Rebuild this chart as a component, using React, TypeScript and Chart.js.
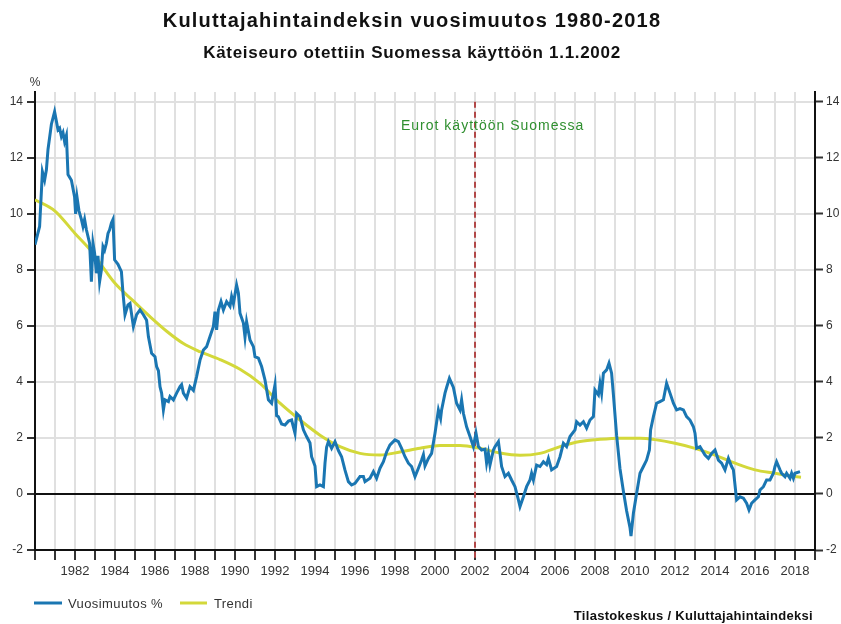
import React, { useEffect, useRef } from 'react';
import { Chart, registerables } from 'chart.js';

Chart.register(...registerables);

const FONT = '"Liberation Sans", Arial, Helvetica, sans-serif';

const otsikko = 'Kuluttajahintaindeksin vuosimuutos 1980-2018';
const alaotsikko = 'Käteiseuro otettiin Suomessa käyttöön 1.1.2002';
const lahde = 'Tilastokeskus / Kuluttajahintaindeksi';
const merkinta = 'Eurot käyttöön Suomessa';
const yksikko = '%';
const sarjaNimet = ['Vuosimuutos %', 'Trendi'];
const euroVuosi = 2002;
const xMin = 1980;
const xMax = 2019;
const yTicks = [-2, 0, 2, 4, 6, 8, 10, 12, 14];

const muutosAika = [
  1980.0, 1980.23, 1980.37, 1980.48, 1980.57, 1980.65, 1980.82, 1980.98,
  1981.15, 1981.23, 1981.32, 1981.4, 1981.48, 1981.57, 1981.65, 1981.82, 1981.98,
  1982.03, 1982.1, 1982.2, 1982.32, 1982.4, 1982.48, 1982.57, 1982.73, 1982.82, 1982.9, 1982.98,
  1983.07, 1983.15, 1983.23, 1983.32, 1983.4, 1983.48, 1983.57, 1983.65, 1983.73, 1983.82, 1983.9, 1983.98,
  1984.15, 1984.32, 1984.4, 1984.5, 1984.65, 1984.75, 1984.92,
  1985.08, 1985.25, 1985.42, 1985.58, 1985.67, 1985.83,
  1986.0, 1986.08, 1986.17, 1986.25, 1986.33, 1986.42, 1986.5, 1986.67, 1986.75, 1986.92,
  1987.08, 1987.25, 1987.33, 1987.42, 1987.58, 1987.75, 1987.92,
  1988.08, 1988.25, 1988.42, 1988.58, 1988.75, 1988.92,
  1989.0, 1989.08, 1989.17, 1989.3, 1989.42, 1989.58, 1989.75, 1989.83, 1989.92,
  1990.08, 1990.17, 1990.25, 1990.42, 1990.5, 1990.58, 1990.75, 1990.92,
  1991.0, 1991.17, 1991.33, 1991.5, 1991.67, 1991.83,
  1992.0, 1992.08, 1992.17, 1992.33, 1992.5, 1992.67, 1992.83,
  1993.0, 1993.08, 1993.25, 1993.42, 1993.58, 1993.75, 1993.83,
  1994.0, 1994.08, 1994.25, 1994.42, 1994.5, 1994.58, 1994.67, 1994.83,
  1995.0, 1995.17, 1995.33, 1995.5, 1995.67, 1995.83,
  1996.0, 1996.25, 1996.42, 1996.5, 1996.75, 1996.92,
  1997.08, 1997.25, 1997.42, 1997.58, 1997.75,
  1998.0, 1998.17, 1998.33, 1998.5, 1998.67, 1998.83,
  1999.0, 1999.17, 1999.33, 1999.42, 1999.5, 1999.67, 1999.83,
  2000.0, 2000.17, 2000.28, 2000.33, 2000.5, 2000.58, 2000.72, 2000.92,
  2001.08, 2001.25, 2001.33, 2001.42, 2001.58, 2001.75, 2001.92,
  2002.05, 2002.17, 2002.33, 2002.5, 2002.58, 2002.67, 2002.75, 2002.92,
  2003.0, 2003.17, 2003.25, 2003.33, 2003.5, 2003.67, 2003.83,
  2004.0, 2004.17, 2004.25, 2004.42, 2004.58, 2004.75, 2004.83, 2004.92,
  2005.08, 2005.25, 2005.42, 2005.58, 2005.67, 2005.83,
  2006.08, 2006.25, 2006.42, 2006.58, 2006.75,
  2007.0, 2007.08, 2007.25, 2007.42, 2007.58, 2007.75, 2007.92,
  2008.0, 2008.17, 2008.25, 2008.33, 2008.42, 2008.58, 2008.7, 2008.83, 2008.92,
  2009.08, 2009.25, 2009.42, 2009.58, 2009.75, 2009.8, 2009.92,
  2010.08, 2010.25, 2010.42, 2010.58, 2010.72, 2010.78, 2010.92,
  2011.08, 2011.25, 2011.42, 2011.58, 2011.75, 2011.92,
  2012.08, 2012.25, 2012.42, 2012.58, 2012.75, 2012.92,
  2013.0, 2013.08, 2013.25, 2013.5, 2013.67, 2013.83,
  2014.0, 2014.17, 2014.33, 2014.5, 2014.67, 2014.83, 2014.92,
  2015.08, 2015.25, 2015.42, 2015.58, 2015.7, 2015.83,
  2016.0, 2016.17, 2016.25, 2016.42, 2016.58, 2016.75, 2016.92,
  2017.0, 2017.08, 2017.25, 2017.33, 2017.5, 2017.58, 2017.75, 2017.83, 2017.92,
  2018.0, 2018.25,
];

const muutosArvo = [
  8.9, 9.55, 11.5, 11.2, 11.57, 12.3, 13.2, 13.65,
  13.0, 13.06, 12.76, 12.9, 12.58, 12.8, 11.4, 11.2, 10.6,
  10.0, 10.6, 10.1, 9.8, 9.55, 9.8, 9.43, 8.95, 7.58, 8.95, 8.6,
  7.88, 8.5, 7.58, 8.0, 8.83, 8.7, 8.95, 9.3, 9.43, 9.67, 9.8, 8.36,
  8.2, 7.94, 7.17, 6.4, 6.75, 6.8, 5.98,
  6.4, 6.57, 6.4, 6.2, 5.62, 5.02,
  4.9, 4.55, 4.4, 3.83, 3.6, 3.0, 3.36, 3.3, 3.48, 3.36,
  3.6, 3.83, 3.9, 3.6, 3.42, 3.83, 3.7,
  4.19, 4.78, 5.14, 5.26, 5.62, 5.98,
  6.51, 5.86, 6.57, 6.87, 6.57, 6.87, 6.7, 7.05, 6.8,
  7.46, 7.17, 6.45, 6.1, 5.6, 6.15, 5.5, 5.26,
  4.9, 4.85, 4.55, 4.07, 3.36, 3.24,
  3.9, 2.8, 2.76, 2.5, 2.46, 2.6, 2.64,
  2.17, 2.88, 2.76, 2.29, 2.05, 1.82, 1.33,
  1.0, 0.26, 0.32, 0.26, 1.1, 1.67, 1.87, 1.63,
  1.87, 1.55, 1.33, 0.85, 0.44, 0.32,
  0.38, 0.62, 0.62, 0.44, 0.56, 0.8,
  0.56, 0.92, 1.15, 1.5, 1.75,
  1.93, 1.87, 1.63, 1.33, 1.1, 0.98,
  0.62, 0.92, 1.21, 1.4, 1.0, 1.27, 1.45,
  2.17, 3.0, 2.7, 3.0, 3.6, 3.8, 4.13, 3.8,
  3.24, 3.0, 3.36, 2.88, 2.4, 2.05, 1.69,
  2.17, 1.69, 1.57, 1.6, 1.1, 1.45, 1.03, 1.57,
  1.69, 1.87, 1.45, 0.98, 0.62, 0.74, 0.5,
  0.26, -0.21, -0.45, -0.1, 0.26, 0.5, 0.74, 0.5,
  1.03, 0.98, 1.15, 1.05, 1.27, 0.86,
  0.98, 1.33, 1.81, 1.69, 2.05,
  2.29, 2.58, 2.46, 2.58, 2.35, 2.64, 2.76,
  3.71, 3.54, 3.95, 3.6, 4.31, 4.43, 4.67, 4.31, 3.55,
  2.1, 0.9, 0.1, -0.6, -1.2, -1.5, -0.69,
  0.02, 0.74, 0.98, 1.21, 1.57, 2.29, 2.76,
  3.24, 3.3, 3.36, 3.95, 3.6, 3.24,
  3.0, 3.05, 3.0, 2.76, 2.64, 2.4,
  2.17, 1.63, 1.69, 1.39, 1.27, 1.45,
  1.57, 1.21, 1.1, 0.86, 1.27, 0.98, 0.86,
  -0.21, -0.1, -0.15, -0.33, -0.57, -0.33,
  -0.21, -0.1, 0.14, 0.26, 0.5, 0.5, 0.74,
  0.98, 1.15, 0.86, 0.74, 0.62, 0.74, 0.56, 0.74, 0.56,
  0.74, 0.8,
];

const trendiAika = [
  1980.0, 1981.0, 1982.0, 1982.8, 1983.25, 1984.0, 1984.9, 1985.75, 1986.6, 1987.4,
  1988.25, 1989.25, 1990.25, 1991.25, 1992.25, 1993.25, 1994.25, 1995.25, 1996.25,
  1997.25, 1998.25, 1999.25, 2000.25, 2001.25, 2002.25, 2003.25, 2004.25, 2005.25,
  2006.25, 2007.25, 2008.25, 2009.25, 2010.25, 2011.0, 2012.0, 2013.0, 2014.0,
  2015.0, 2016.0, 2017.0, 2018.0, 2018.3,
];

const trendiArvo = [
  10.5, 10.1, 9.3, 8.68, 8.24, 7.52, 6.9, 6.33, 5.8, 5.38,
  5.08, 4.8, 4.45, 3.95, 3.24, 2.64, 2.1, 1.69, 1.45,
  1.39, 1.5, 1.63, 1.73, 1.73, 1.63, 1.46, 1.38, 1.45,
  1.69, 1.87, 1.95, 1.99, 1.99, 1.94, 1.81, 1.63, 1.39,
  1.1, 0.86, 0.74, 0.62, 0.6,
];

const SININEN = '#1a76b2';
const KELTAINEN = '#d3d83a';

const setSpacing = (ctx: any, v: string) => {
  try { ctx.letterSpacing = v; } catch (e) { /* ignore */ }
};

const decorPlugin = {
  id: 'decor',
  beforeDatasetsDraw(chart: any) {
    const { ctx, chartArea, scales } = chart;
    const x = Math.round(scales.x.getPixelForValue(euroVuosi));
    ctx.save();
    ctx.strokeStyle = '#b24848';
    ctx.lineWidth = 2;
    ctx.setLineDash([6, 4]);
    ctx.beginPath();
    ctx.moveTo(x, scales.y.getPixelForValue(14));
    ctx.lineTo(x, chartArea.bottom + 9);
    ctx.stroke();
    ctx.restore();
  },
  afterDraw(chart: any) {
    const { ctx, chartArea, scales } = chart;
    ctx.save();
    ctx.fillStyle = '#111';
    ctx.textAlign = 'center';
    ctx.textBaseline = 'middle';
    ctx.font = `bold 20px ${FONT}`;
    setSpacing(ctx, '1.2px');
    ctx.fillText(otsikko, 412, 21);
    ctx.font = `bold 17px ${FONT}`;
    setSpacing(ctx, '0.7px');
    ctx.fillText(alaotsikko, 412, 53);
    setSpacing(ctx, '0px');

    // unit label
    ctx.font = `12px ${FONT}`;
    ctx.fillStyle = '#333';
    ctx.fillText(yksikko, chartArea.left, 83);

    // annotation
    ctx.font = `14px ${FONT}`;
    ctx.fillStyle = '#2f8f2f';
    ctx.textAlign = 'left';
    setSpacing(ctx, '1px');
    ctx.fillText(merkinta, scales.x.getPixelForValue(euroVuosi) - 74, 126);
    setSpacing(ctx, '0px');

    // legend
    const ly = 603;
    ctx.lineWidth = 3;
    ctx.strokeStyle = SININEN;
    ctx.beginPath();
    ctx.moveTo(34, ly);
    ctx.lineTo(62, ly);
    ctx.stroke();
    ctx.strokeStyle = KELTAINEN;
    ctx.beginPath();
    ctx.moveTo(180, ly);
    ctx.lineTo(207, ly);
    ctx.stroke();
    ctx.font = `13px ${FONT}`;
    ctx.fillStyle = '#333';
    setSpacing(ctx, '0.4px');
    ctx.fillText(sarjaNimet[0], 68, ly + 1);
    ctx.fillText(sarjaNimet[1], 214, ly + 1);

    // source
    ctx.font = `bold 13px ${FONT}`;
    ctx.fillStyle = '#111';
    ctx.textAlign = 'right';
    setSpacing(ctx, '0.3px');
    ctx.fillText(lahde, 813, 616);
    setSpacing(ctx, '0px');
    ctx.restore();
  },
};

export default function App() {
  const ref = useRef<HTMLCanvasElement | null>(null);

  useEffect(() => {
    document.body.style.margin = '0';
    const canvas = ref.current;
    if (!canvas) return;

    const muutosData = muutosAika.map((t, i) => ({ x: t, y: muutosArvo[i] }));
    const trendiData = trendiAika.map((t, i) => ({ x: t, y: trendiArvo[i] }));

    const keepTicks = (scale: any) => {
      scale.ticks = yTicks.map((v) => ({ value: v }));
    };

    const chart = new Chart(canvas, {
      type: 'line',
      data: {
        datasets: [
          {
            label: sarjaNimet[0],
            data: muutosData,
            borderColor: SININEN,
            borderWidth: 3,
            pointRadius: 0,
            tension: 0,
            yAxisID: 'y',
          },
          {
            label: sarjaNimet[1],
            data: trendiData,
            borderColor: KELTAINEN,
            borderWidth: 3,
            pointRadius: 0,
            cubicInterpolationMode: 'monotone',
            yAxisID: 'y',
          },
        ],
      },
      options: {
        animation: false,
        responsive: false,
        maintainAspectRatio: false,
        layout: { padding: { top: 92, left: 0, right: 0, bottom: 0 } },
        plugins: {
          legend: { display: false },
          title: { display: false },
          tooltip: { enabled: false },
        },
        scales: {
          x: {
            type: 'linear',
            min: xMin,
            max: xMax,
            afterFit: (s: any) => { s.height = 74; },
            grid: {
              color: '#e0e0e0',
              lineWidth: 2,
              tickColor: '#333',
              tickLength: 10,
              tickWidth: 2,
            },
            border: { color: '#111', width: 2 },
            ticks: {
              stepSize: 1,
              autoSkip: false,
              maxRotation: 0,
              padding: 4,
              color: '#333',
              font: { family: FONT, size: 13 },
              callback: (v: any) => {
                const n = Math.round(Number(v));
                return n % 2 === 0 && n >= 1982 && n <= 2018 ? String(n) : '';
              },
            },
          },
          y: {
            position: 'left',
            min: -2,
            max: 14.35,
            afterFit: (s: any) => { s.width = 35; },
            afterBuildTicks: keepTicks,
            grid: {
              color: (c: any) => (c.tick && c.tick.value === 0 ? '#111' : '#e0e0e0'),
              lineWidth: 2,
              tickColor: '#333',
              tickLength: 8,
              tickWidth: 2,
            },
            border: { color: '#111', width: 2 },
            ticks: {
              padding: 4,
              color: '#333',
              font: { family: FONT, size: 12 },
            },
          },
          y2: {
            position: 'right',
            min: -2,
            max: 14.35,
            afterFit: (s: any) => { s.width = 26; },
            afterBuildTicks: keepTicks,
            grid: {
              drawOnChartArea: false,
              tickColor: '#333',
              tickLength: 8,
              tickWidth: 2,
            },
            border: { color: '#111', width: 2 },
            ticks: {
              padding: 3,
              color: '#333',
              font: { family: FONT, size: 12 },
            },
          },
        },
      },
      plugins: [decorPlugin],
    } as any);

    return () => chart.destroy();
  }, []);

  return (
    <div style={{ position: 'relative', width: 841, height: 624, background: '#fff' }}>
      <canvas ref={ref} width={841} height={624} style={{ display: 'block' }} />
    </div>
  );
}
